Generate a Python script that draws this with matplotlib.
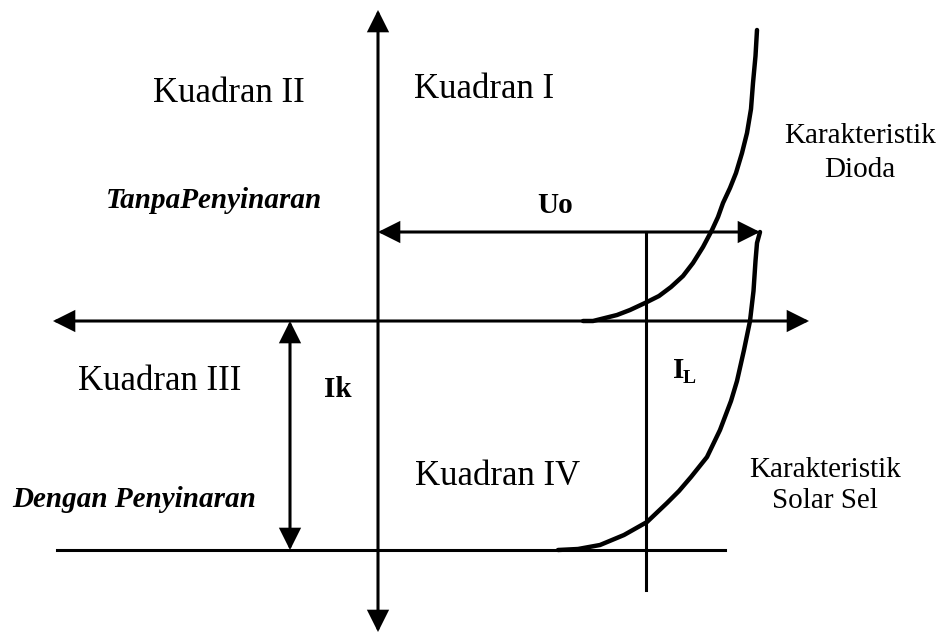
import matplotlib
matplotlib.use("Agg")
import matplotlib.pyplot as plt
from matplotlib.patches import FancyArrowPatch

# ---- data (diagram units: origin at axes crossing) ----
x_axis_range = [-325, 431]
y_axis_range = [-311, 311]
Uo = 382          # open-circuit voltage
Uo_level = 89     # height of Uo dimension arrow
IL_x = 268        # operating point voltage
IL_bottom = -269
Ik = -229         # short-circuit current
Ik_x = -88
sc_line_x = [-321, 347]

diode_x = [205, 215, 227, 239, 252, 267, 281, 293, 305, 315, 325, 334,
           340, 345, 352, 358, 364, 369, 373, 375, 377.5, 379]
diode_y = [0, 0, 3, 6, 11, 18, 25, 34, 45, 58, 74, 91,
           104, 118, 133, 148, 168, 188, 212, 238, 265, 291]

solar_x = [382, 379, 377.5, 375.5, 372, 366, 359, 353, 342, 329, 313, 301,
           289, 269, 246, 222, 200, 180]
solar_y = [89, 78, 60, 30, 0, -29, -60, -80, -109, -136, -156, -170,
           -182, -201, -214, -224, -228, -229]

labels = {
    "Kuadran II": (-149, 219),
    "Kuadran I": (106, 223),
    "Kuadran III": (-218, -69),
    "Kuadran IV": (120, -164),
}

fig = plt.figure(figsize=(9.42, 6.35), dpi=100)
ax = fig.add_axes([0, 0, 1, 1])
ax.set_xlim(-378, 564)
ax.set_ylim(-314, 321)
ax.axis("off")

serif = "Liberation Serif"
LW = 2.2

def arrow(p0, p1, style):
    a = FancyArrowPatch(p0, p1, arrowstyle=style, mutation_scale=25,
                        shrinkA=0, shrinkB=0, lw=LW, color="black",
                        joinstyle="miter")
    ax.add_patch(a)

hs = "<|-|>,head_length=0.5,head_width=0.25"
# axes
arrow((x_axis_range[0], 0), (x_axis_range[1], 0), hs)
arrow((0, y_axis_range[0]), (0, y_axis_range[1]), hs)
# Uo dimension
arrow((0, Uo_level), (Uo, Uo_level), hs)
# Ik dimension
arrow((Ik_x, 0), (Ik_x, Ik), hs)
# I_L vertical line
ax.plot([IL_x, IL_x], [Uo_level, IL_bottom], color="black", lw=LW)
# short-circuit line
ax.plot(sc_line_x, [Ik, Ik], color="black", lw=LW)

# curves
ax.plot(diode_x, diode_y, color="black", lw=3.2, solid_capstyle="round",
        solid_joinstyle="round")
ax.plot(solar_x, solar_y, color="black", lw=3.2, solid_capstyle="round",
        solid_joinstyle="round")

# texts
for t, (x, y) in labels.items():
    ax.text(x, y, t, ha="center", va="baseline", fontsize=25, family=serif)

ax.text(-164, 113, "TanpaPenyinaran", ha="center", va="baseline", fontsize=21,
        family=serif, style="italic", weight="bold")
ax.text(-244, -186, "Dengan Penyinaran", ha="center", va="baseline", fontsize=21,
        family=serif, style="italic", weight="bold")
ax.text(177, 108, "Uo", ha="center", va="baseline", fontsize=21,
        family=serif, weight="bold")
ax.text(-40, -76, "Ik", ha="center", va="baseline", fontsize=21,
        family=serif, weight="bold")
ax.text(295, -57, "I", ha="left", va="baseline", fontsize=21,
        family=serif, weight="bold")
ax.text(305, -62, "L", ha="left", va="baseline", fontsize=14,
        family=serif, weight="bold")

ax.text(482, 178, "Karakteristik", ha="center", va="baseline", fontsize=21, family=serif)
ax.text(482, 144, "Dioda", ha="center", va="baseline", fontsize=21, family=serif)
ax.text(447, -156, "Karakteristik", ha="center", va="baseline", fontsize=21, family=serif)
ax.text(447, -187, "Solar Sel", ha="center", va="baseline", fontsize=21, family=serif)

fig.savefig("out.png", dpi=100, facecolor="white")
